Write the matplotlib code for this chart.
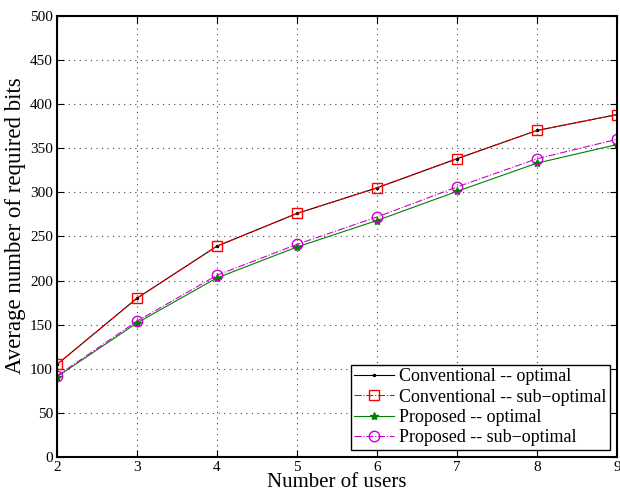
import matplotlib
matplotlib.use("Agg")
import matplotlib.pyplot as plt

plt.rcParams['font.family'] = ['Liberation Serif', 'DejaVu Serif']

users = [2, 3, 4, 5, 6, 7, 8, 9]
conv_opt = [105, 180, 239, 276, 305, 338, 370, 388]
conv_sub = [105, 180, 239, 276, 305, 338, 370, 388]
prop_opt = [91, 152, 203, 238, 268, 301, 333, 354]
prop_sub = [92, 154, 206, 241, 272, 306, 338, 360]

fig = plt.figure(figsize=(6.2, 4.92), dpi=100)
ax = fig.add_axes([0.092, 0.071, 0.903, 0.897])

ax.plot(users, conv_opt, '-', color='black', lw=0.8, marker='.', ms=3,
        label='Conventional -- optimal')
ax.plot(users, conv_sub, '-.', color='red', lw=0.8, marker='s', ms=7,
        mfc='none', mec='red', label='Conventional -- sub\u2212optimal')
ax.plot(users, prop_opt, '-', color='green', lw=0.8, marker='*', ms=6,
        label='Proposed -- optimal')
ax.plot(users, prop_sub, '-.', color='#cc00cc', lw=0.8, marker='o', ms=7.5,
        mfc='none', mec='#cc00cc', label='Proposed -- sub\u2212optimal')

ax.set_xlim(2, 9)
ax.set_ylim(0, 500)
ax.set_xticks(users)
ax.set_yticks(range(0, 501, 50))
ax.grid(True, linestyle=(0, (1, 4)), color='#444444', lw=0.8)
ax.tick_params(direction='in', labelsize=11, top=True, right=True, length=5, pad=3)
for s in ax.spines.values():
    s.set_linewidth(1.5)

ax.set_xlabel('Number of users', fontsize=15, labelpad=-1)
ax.set_ylabel('Average number of required bits', fontsize=16.5, labelpad=-1)
ax.yaxis.set_label_coords(-0.056, 0.525)

leg = ax.legend(loc='lower right', fontsize=13, fancybox=False, framealpha=1,
                edgecolor='black', borderpad=0.2, labelspacing=0.18,
                handlelength=2.2, handletextpad=0.25, borderaxespad=0.4)
leg.get_frame().set_linewidth(1.0)

fig.savefig('out.png', dpi=100)
